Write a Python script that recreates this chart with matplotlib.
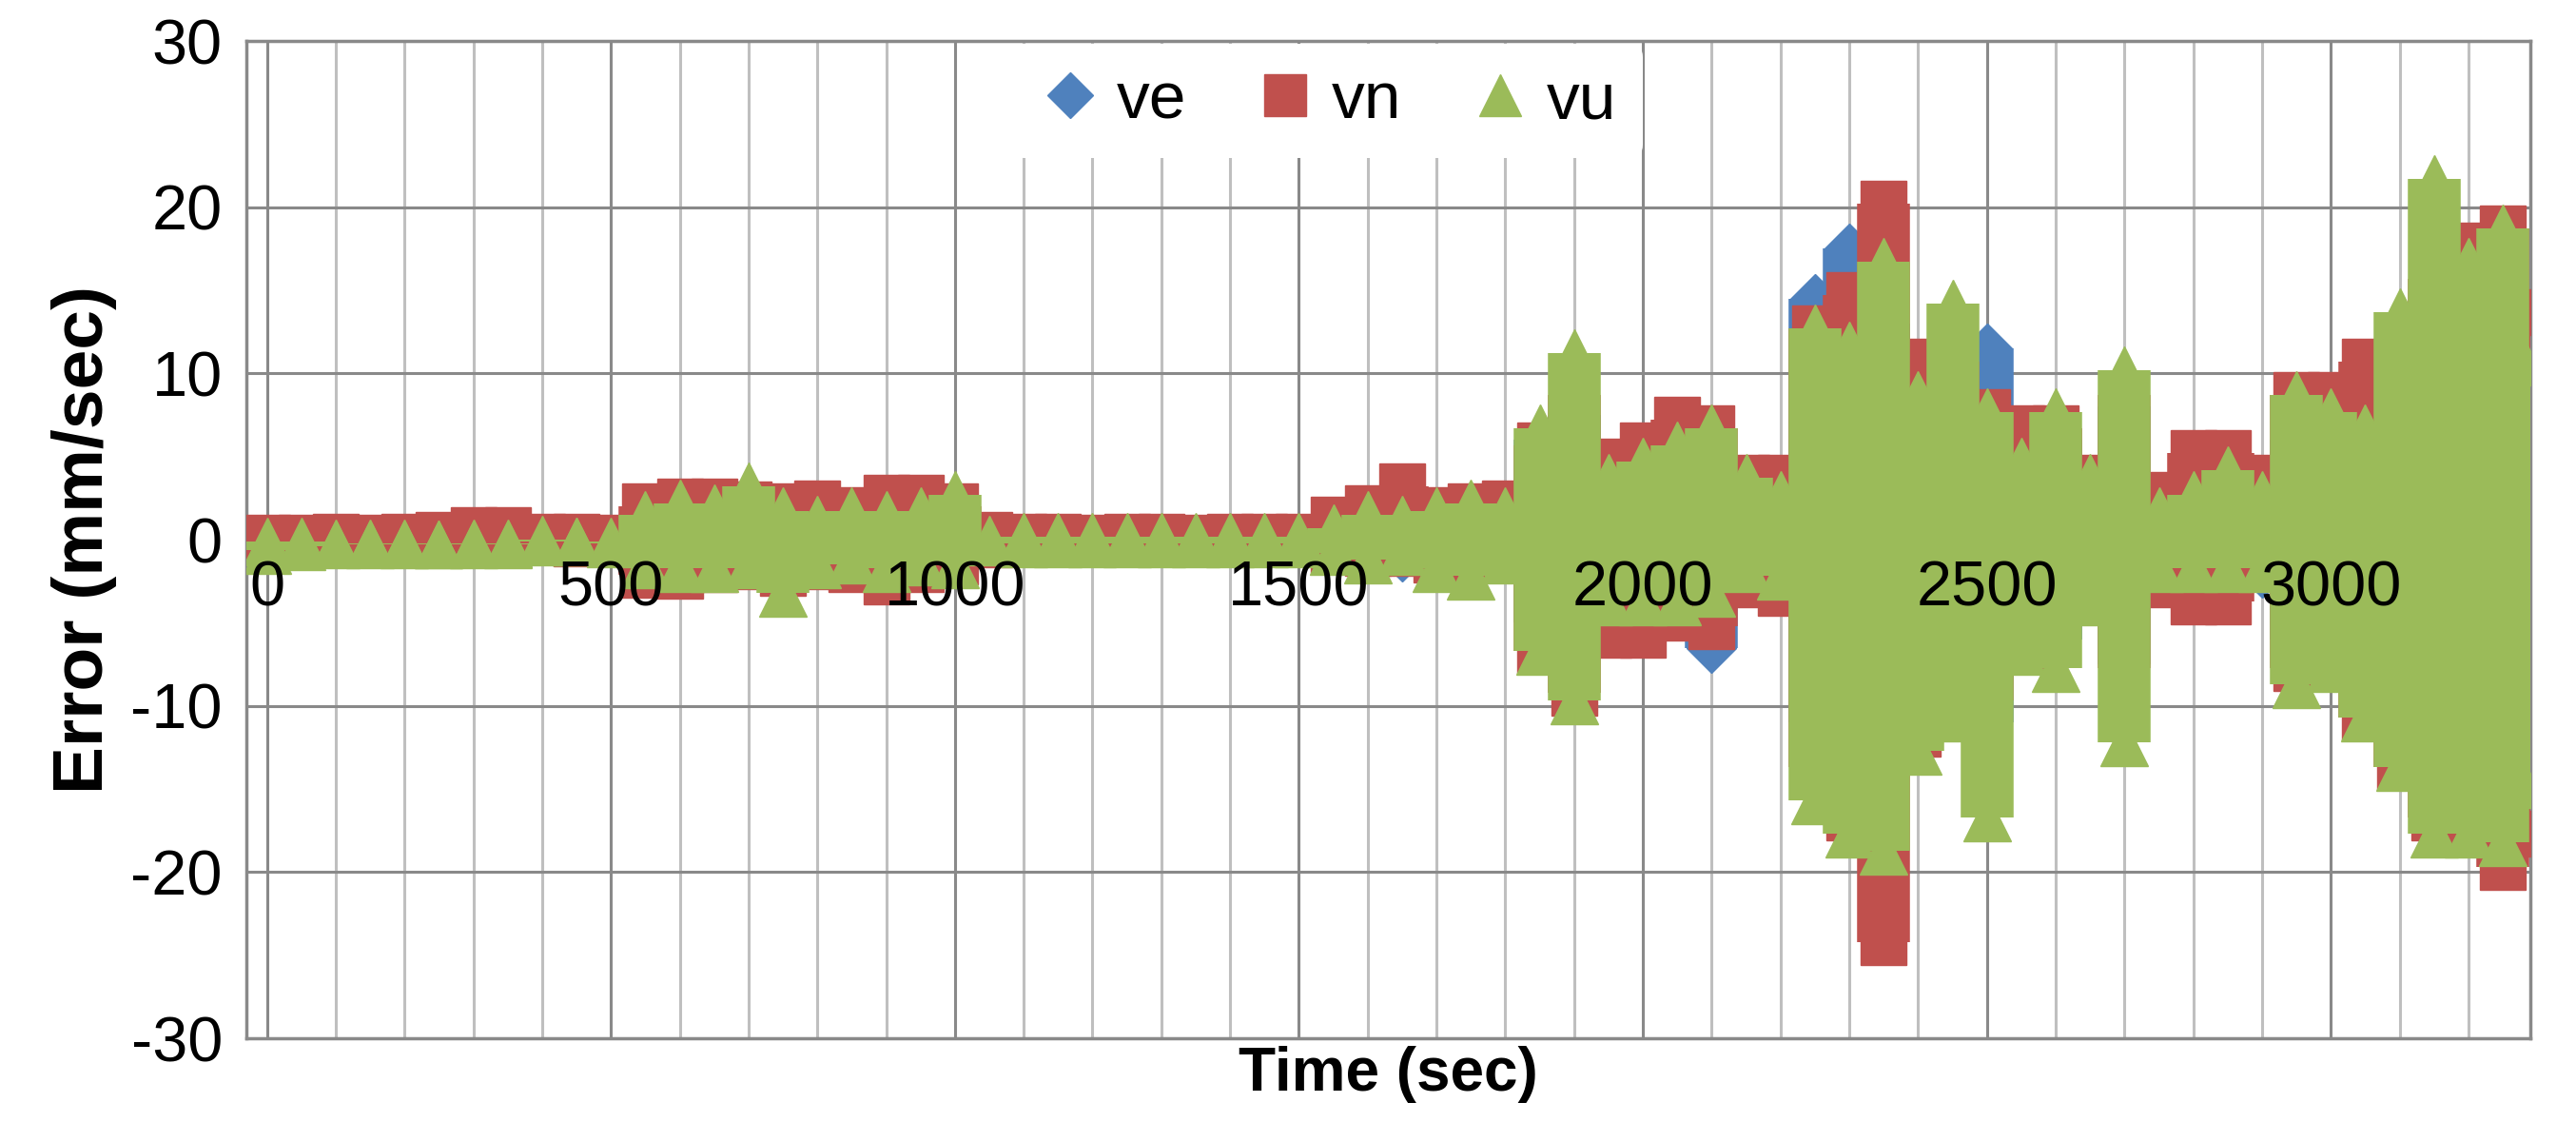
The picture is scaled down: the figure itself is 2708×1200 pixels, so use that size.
import matplotlib
matplotlib.use("Agg")
import matplotlib.pyplot as plt
from matplotlib.lines import Line2D

plt.rcParams['font.family'] = ['Liberation Sans', 'DejaVu Sans']

t = [0, 50, 100, 150, 200, 250, 300, 350, 400, 450, 500, 550, 600, 650, 700, 750, 800, 850,
     900, 950, 1000, 1050, 1100, 1150, 1200, 1250, 1300, 1350, 1400, 1450, 1500, 1550, 1600,
     1650, 1700, 1750, 1800, 1850, 1900, 1950, 2000, 2050, 2100, 2150, 2200, 2250, 2300, 2350,
     2400, 2450, 2500, 2550, 2600, 2650, 2700, 2750, 2800, 2850, 2900, 2950, 3000, 3050, 3100,
     3150, 3200, 3250, 3280]

vn_hi = [0.1, 0.1, 0.2, 0.1, 0.2, 0.3, 0.6, 0.6, 0.2, 0.2, 0.1, 2.0, 2.3, 2.3, 2.1, 2.0, 2.2, 1.8,
         2.5, 2.5, 2.0, 0.3, 0.2, 0.2, 0.1, 0.2, 0.2, 0.1, 0.2, 0.2, 0.2, 1.2, 1.9,
         3.2, 1.8, 2.0, 2.2, 5.7, 8.7, 4.7, 5.7, 7.2, 6.7, 3.7, 3.7, 12.7, 14.7, 20.2,
         10.7, 10.7, 7.7, 6.7, 6.7, 3.7, 8.7, 2.7, 5.2, 5.2, 3.7, 8.7, 8.7, 10.7, 10.7,
         15.7, 17.7, 18.7, 13.7]
vn_lo = [-0.1, -0.1, -0.2, -0.1, -0.1, -0.2, -0.2, -0.2, -0.1, -0.2, -0.1, -2.1, -2.2, -1.8, -1.6, -2.0, -1.6, -1.8,
         -2.5, -1.8, -1.3, -0.3, -0.2, -0.2, -0.1, -0.2, -0.2, -0.1, -0.2, -0.2, -0.2, -0.6, -0.8,
         -0.8, -1.2, -1.2, -1.2, -6.7, -9.2, -5.7, -5.7, -4.7, -5.2, -2.7, -3.2, -13.7, -16.7, -24.2,
         -11.7, -10.7, -9.7, -6.7, -4.7, -2.7, -7.7, -2.7, -3.7, -3.7, -1.7, -7.7, -6.7, -10.7, -13.7,
         -16.7, -17.7, -19.7, -17.7]

vu_hi = [-0.6, -0.4, -0.3, -0.3, -0.3, -0.3, -0.2, -0.2, 0.0, -0.1, -0.2, 1.5, 2.2, 1.9, 3.2, 1.7, 1.2, 1.7,
         1.5, 1.7, 2.7, 0.0, -0.2, -0.2, -0.2, -0.2, -0.2, -0.2, -0.2, -0.2, -0.2, 0.7, 1.5,
         1.2, 1.7, 2.2, 1.7, 6.7, 11.2, 3.7, 4.7, 5.7, 6.7, 3.7, 2.7, 12.7, 11.7, 16.7,
         8.7, 14.2, 7.7, 4.7, 7.7, 3.7, 10.2, 1.7, 2.7, 4.2, 2.7, 8.7, 7.7, 6.7, 13.7,
         21.7, 16.7, 18.7, 10.7]
vu_lo = [-0.1, -0.1, -0.2, -0.2, -0.2, -0.3, -0.3, -0.3, -0.1, -0.1, -0.1, -1.5, -1.7, -1.7, -1.5, -3.2, -1.5, -1.2,
         -1.7, -1.3, -1.5, -0.1, 0.2, 0.2, 0.2, 0.2, 0.2, 0.2, 0.2, 0.2, 0.2, -0.7, -1.2,
         -0.7, -1.7, -2.2, -1.2, -6.7, -9.7, -3.7, -3.7, -3.7, -3.2, -1.7, -2.2, -15.7, -17.7, -18.7,
         -12.7, -10.7, -16.7, -6.7, -7.7, -3.7, -12.2, -1.7, -1.7, -1.7, -1.7, -8.7, -7.7, -10.7, -13.7,
         -17.7, -17.7, -18.2, -14.7]

ve_hi = [0.0, 0.0, 0.0, 0.0, 0.0, 0.0, 0.0, 0.0, 0.0, 0.0, 0.0, 1.0, 1.5, 1.5, 1.5, 1.2, 1.0, 1.0,
         1.5, 1.5, 1.5, 0.0, 0.0, 0.0, 0.0, 0.0, 0.0, 0.0, 0.0, 0.0, 0.0, 0.5, 1.0,
         1.5, 1.0, 1.0, 1.0, 6.0, 7.5, 4.0, 4.0, 5.0, 5.0, 3.0, 3.0, 14.5, 17.5, 13.0,
         8.0, 9.0, 11.5, 5.0, 6.0, 3.0, 8.0, 2.0, 3.0, 3.0, 2.0, 6.0, 6.0, 7.0, 9.0,
         14.0, 13.0, 14.0, 9.0]
ve_lo = [0.0, 0.0, 0.0, 0.0, 0.0, 0.0, 0.0, 0.0, 0.0, 0.0, 0.0, -1.0, -1.5, -1.5, -1.5, -1.5, -1.0, -1.0,
         -1.5, -1.5, -1.0, 0.0, 0.0, 0.0, 0.0, 0.0, 0.0, 0.0, 0.0, 0.0, 0.0, -0.5, -1.0,
         -1.0, -1.0, -1.0, -1.0, -5.0, -7.0, -4.0, -4.0, -4.0, -6.5, -2.0, -2.0, -11.0, -13.0, -14.0,
         -9.0, -9.0, -11.0, -5.0, -6.0, -3.0, -7.5, -2.0, -2.0, -2.0, -2.0, -6.0, -6.0, -8.0, -10.0,
         -12.0, -13.0, -8.0, -7.0]

x_ticks = [0, 500, 1000, 1500, 2000, 2500, 3000]
y_ticks = [-30, -20, -10, 0, 10, 20, 30]

BLUE, RED, GREEN = '#4F81BD', '#C0504D', '#9BBB59'
GRID = '#898989'

fig = plt.figure(figsize=(27.08, 12), dpi=100)
ax = fig.add_axes([0.0956, 0.0908, 0.8867, 0.8733])
ax.set_xlim(-30, 3290)
ax.set_ylim(-30, 30)

for v in range(0, 3300, 100):
    ax.axvline(v, color=GRID if v % 500 == 0 else '#BFBFBF', lw=2.2, zorder=0)
for v in y_ticks:
    ax.axhline(v, color=GRID, lw=2.2, zorder=0)

series = [(ve_hi, ve_lo, BLUE, 'D', 26, 've'),
          (vn_hi, vn_lo, RED, 's', 34, 'vn'),
          (vu_hi, vu_lo, GREEN, '^', 36, 'vu')]
for z, (hi, lo, c, m, ms, name) in enumerate(series):
    ax.vlines(t, lo, hi, colors=c, linewidth=40, capstyle='butt', zorder=2 + z)
    ax.plot(t, hi, ls='none', marker=m, ms=ms, color=c, mec=c, zorder=2 + z)
    ax.plot(t, lo, ls='none', marker=m, ms=ms, color=c, mec=c, zorder=2 + z)

for s in ax.spines.values():
    s.set_color(GRID)
    s.set_linewidth(2.5)

ax.set_yticks(y_ticks)
ax.set_yticklabels([str(v) for v in y_ticks], fontsize=48)
ax.tick_params(axis='y', length=0, pad=18)
ax.set_xticks([])
for v in x_ticks:
    ax.text(v, -1.2, str(v), ha='center', va='top', fontsize=48, zorder=10)

ax.set_xlabel('Time (sec)', fontsize=46, fontweight='bold', labelpad=6)
ax.set_ylabel('Error (mm/sec)', fontsize=54, fontweight='bold', labelpad=10)

handles = [Line2D([], [], ls='none', marker='D', ms=24, color=BLUE),
           Line2D([], [], ls='none', marker='s', ms=32, color=RED),
           Line2D([], [], ls='none', marker='^', ms=32, color=GREEN)]
leg = ax.legend(handles, ['ve', 'vn', 'vu'], loc='upper center', bbox_to_anchor=(0.473, 1.03),
                ncol=3, fontsize=50, frameon=True, framealpha=1, facecolor='white',
                edgecolor='none', handletextpad=0.2, columnspacing=1.0, borderpad=0.4,
                handlelength=1.0)
leg.set_zorder(20)

fig.savefig('out.png', dpi=100)
